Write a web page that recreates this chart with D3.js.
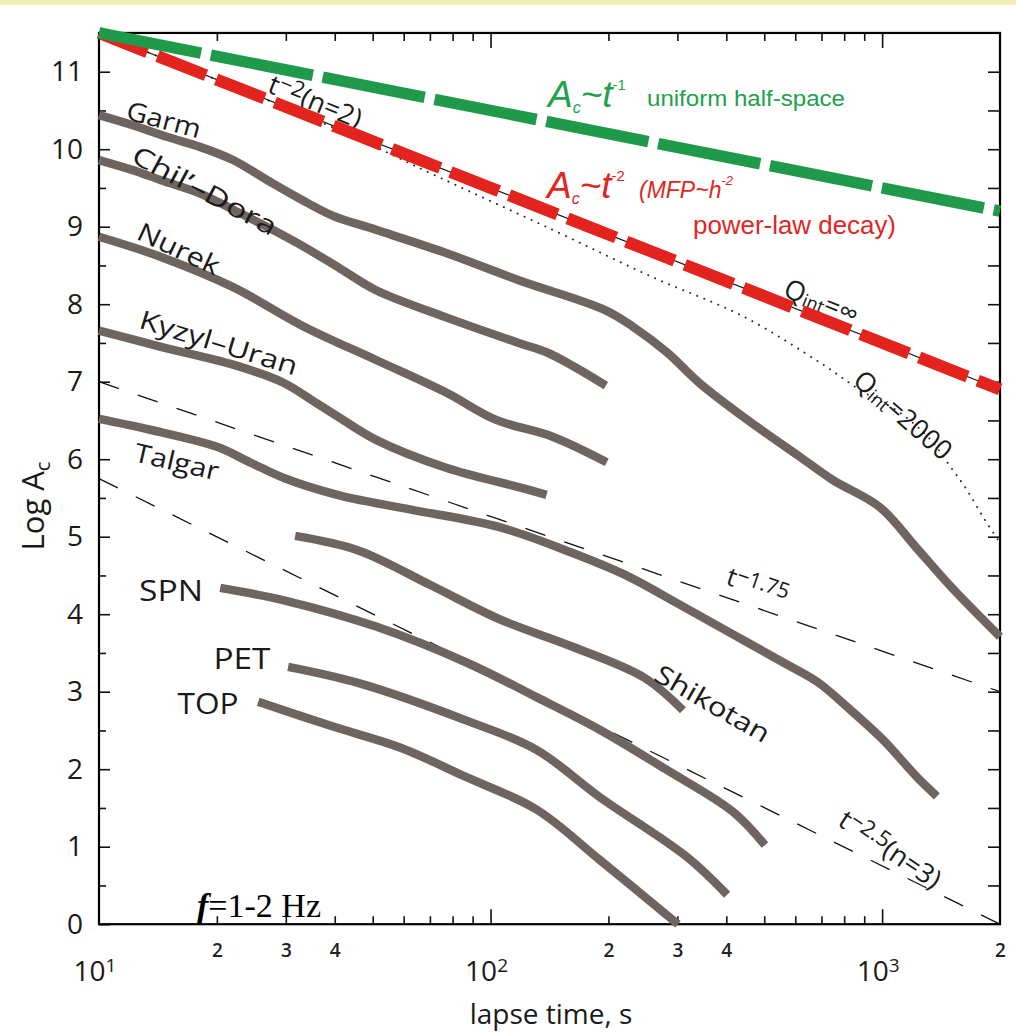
<!DOCTYPE html>
<html><head><meta charset="utf-8">
<script src="https://cdn.jsdelivr.net/npm/d3@7"></script>
<style>body{margin:0;background:#fff;} svg{display:block;} text{font-family:"Open Sans","DejaVu Sans",sans-serif;fill:#1a1a1a;}</style>
</head><body><svg id="c" width="1016" height="1033"></svg>
<script>
// ---------- data (lapse time t in s, log Ac) ----------
const garmT   = [10,12.2,14.9,18.1,22,26.9,32.6,39.6,51,77,118,195,231,282,342,452,617,749,987,1227,1490,2000];
const garmA   = [10.44,10.31,10.16,10.03,9.86,9.60,9.36,9.14,8.96,8.66,8.31,7.93,7.71,7.38,6.98,6.51,6.03,5.73,5.38,4.85,4.37,3.71];
const chilT   = [10,12.2,14.4,18.1,22,27.3,33.4,41.3,51,77,118,139,164,197];
const chilA   = [9.86,9.73,9.60,9.43,9.22,8.98,8.74,8.46,8.18,7.83,7.50,7.38,7.19,6.95];
const nurekT  = [10,14.4,22,33.4,51,77,103,144,198];
const nurekA  = [8.87,8.61,8.22,7.71,7.28,6.86,6.51,6.29,5.96];
const kyzylT  = [10,14.4,22,29.5,36,41.3,51,77,118,139];
const kyzylA  = [7.66,7.45,7.22,6.99,6.72,6.53,6.25,5.89,5.64,5.54];
const talgarT = [10,13.5,20,24.3,29.9,41.3,62.6,106,162,220,305,416,558,682,828,1005,1227,1380];
const talgarA = [6.52,6.38,6.16,5.96,5.75,5.53,5.35,5.12,4.79,4.51,4.12,3.74,3.38,3.13,2.77,2.38,1.90,1.65];
const shikT   = [31.7,46.1,70,106,162,247,310];
const shikA   = [5.01,4.82,4.38,3.93,3.58,3.18,2.76];
const spnT    = [20.4,30.2,51,86.5,131,190,282,416,502];
const spnA    = [4.34,4.17,3.84,3.38,2.93,2.51,1.99,1.45,1.02];
const petT    = [30.4,46.1,86.5,131,190,317,402];
const petA    = [3.32,3.11,2.63,2.25,1.64,0.87,0.38];
const topT    = [25.5,39.6,58.7,86.5,131,190,301];
const topA    = [2.87,2.55,2.28,1.90,1.48,0.83,0.0];

// reference power-law lines (end points)
const refT      = [10, 2000];
const tm1A      = [11.5, 9.2];   // Ac ~ t^-1
const tm2A      = [11.5, 6.9];   // Ac ~ t^-2
const tm175A    = [7.0, 3.0];    // t^-1.75
const tm25A     = [5.75, 0.0];   // t^-2.5
// Qint = 2000 curve
const q2000T = [10,40,73,144,259,443,697,874,1110,1330,1495,1643,1828,2000];
const q2000A = [11.5,10.27,9.65,8.96,8.35,7.84,7.24,6.90,6.60,6.25,5.90,5.61,5.22,4.92];

// ticks
const yMajor = [0,1,2,3,4,5,6,7,8,9,10,11];
const yMinor = [0.5,1.5,2.5,3.5,4.5,5.5,6.5,7.5,8.5,9.5,10.5,11.5];
const yRight = [0.5,1,1.5,2,2.5,3,3.5,4,4.5,5,5.5,6,6.5,7,7.5,8,8.5,9,9.5,10,10.5,11];
const xMinor = [20,30,40,50,60,70,80,90,200,300,400,500,600,700,800,900];
const xMajor = [100,1000];
const xMinorLabels = [20,30,40,200,300,400,2000];
const xDecades = [10,100,1000];

// ---------- drawing ----------
const svg = d3.select("#c");
svg.append("rect").attr("width",1016).attr("height",5).attr("fill","#f0efb8");

const x = d3.scaleLog().domain([10,2000]).range([99,1000]);
const y = d3.scaleLinear().domain([0,11.5]).range([924.2,32.95]);

const line = d3.line().x(d=>x(d[0])).y(d=>y(d[1]));
const smooth = d3.line().x(d=>x(d[0])).y(d=>y(d[1])).curve(d3.curveCatmullRom.alpha(0.5));
const zip = (a,b)=>a.map((v,i)=>[v,b[i]]);

// axes ticks
const noDomain = g=>g.select(".domain").remove();
svg.append("g").attr("transform",`translate(0,${y(0)})`)
  .call(d3.axisBottom(x).tickValues(xMinor).tickSize(-8).tickFormat("")).call(noDomain);
svg.append("g").attr("transform",`translate(0,${y(0)})`)
  .call(d3.axisBottom(x).tickValues(xMajor).tickSize(-15).tickFormat("")).call(noDomain);
svg.append("g").attr("transform",`translate(0,${y(11.5)})`)
  .call(d3.axisTop(x).tickValues(xMinor).tickSize(-8).tickFormat("")).call(noDomain);
svg.append("g").attr("transform",`translate(0,${y(11.5)})`)
  .call(d3.axisTop(x).tickValues(xMajor).tickSize(-15).tickFormat("")).call(noDomain);
svg.append("g").attr("transform",`translate(${x(10)},0)`)
  .call(d3.axisLeft(y).tickValues(yMajor).tickSize(-11).tickPadding(16).tickFormat(d3.format("d")))
  .call(noDomain)
  .call(g=>g.selectAll("text").attr("font-size",28).style("fill","#1a1a1a"));
svg.append("g").attr("transform",`translate(${x(10)},0)`)
  .call(d3.axisLeft(y).tickValues(yMinor).tickSize(-7).tickFormat("")).call(noDomain);
svg.append("g").attr("transform",`translate(${x(2000)},0)`)
  .call(d3.axisRight(y).tickValues(yRight).tickSize(-12).tickFormat("")).call(noDomain);
svg.selectAll(".tick line").attr("stroke","#111").attr("stroke-width",1.6);

// x labels
svg.append("g").attr("transform",`translate(0,${y(0)})`)
  .call(d3.axisBottom(x).tickValues(xMinorLabels).tickSize(0).tickPadding(19).tickFormat(d=>String(d).charAt(0)))
  .call(noDomain)
  .call(g=>g.selectAll("text").attr("font-size",19).attr("font-weight",600).style("fill","#222"));
xDecades.forEach(d=>{
  const t = svg.append("text").attr("x",x(d)-4).attr("y",981).attr("text-anchor","middle").attr("font-size",28);
  t.append("tspan").text("10");
  t.append("tspan").attr("dy",-9).attr("font-size",19).text(String(Math.round(Math.log10(d))));
});
svg.append("text").attr("x",551).attr("y",1024).attr("text-anchor","middle").attr("font-size",28).text("lapse time, s");
const yl = svg.append("text").attr("transform","translate(44,506) rotate(-90)").attr("text-anchor","middle").attr("font-size",31);
yl.append("tspan").text("Log A");
yl.append("tspan").attr("dy",6).attr("font-size",20).text("c");

// frame
svg.append("rect").attr("x",x(10)).attr("y",y(11.5)).attr("width",x(2000)-x(10)).attr("height",y(0)-y(11.5))
  .attr("fill","none").attr("stroke","#000").attr("stroke-width",2.2);

// thin reference lines
svg.append("path").attr("d",line(zip(refT,tm175A))).attr("fill","none").attr("stroke","#111").attr("stroke-width",1.3).attr("stroke-dasharray","21,20");
svg.append("path").attr("d",line(zip(refT,tm25A))).attr("fill","none").attr("stroke","#111").attr("stroke-width",1.3).attr("stroke-dasharray","21,20");
svg.append("path").attr("d",smooth(zip(q2000T,q2000A))).attr("fill","none").attr("stroke","#222").attr("stroke-width",1.9).attr("stroke-linecap","round").attr("stroke-dasharray","0.1,7.5");
svg.append("path").attr("d",line(zip(refT,tm2A))).attr("fill","none").attr("stroke","#111").attr("stroke-width",1.2);

// data curves
const curves = [[garmT,garmA],[chilT,chilA],[nurekT,nurekA],[kyzylT,kyzylA],[talgarT,talgarA],[shikT,shikA],[spnT,spnA],[petT,petA],[topT,topA]];
curves.forEach(([t,a])=>{
  svg.append("path").attr("d",smooth(zip(t,a))).attr("fill","none").attr("stroke","#6f6560").attr("stroke-width",8.5).attr("stroke-linejoin","round");
});

// labels
function lab(txt,cx,cy,rot,size,len){
  const t = svg.append("text").attr("transform",`translate(${cx},${cy}) rotate(${rot})`)
    .attr("text-anchor","middle").attr("dominant-baseline","central").attr("font-size",size).text(txt);
  if(len) t.attr("textLength",len).attr("lengthAdjust","spacingAndGlyphs");
  return t;
}
lab("Garm",164,119,15,26,76);
lab("Chil\u2019\u2013Dora",205,190,28,26,160);
lab("Nurek",179,248,25,26,88);
lab("Kyzyl\u2013Uran",219,342,17,26,164);
lab("Talgar",177,461,13,26,86);
lab("Shikotan",713,703,30,26,128);
lab("SPN",171,589,0,30,64);
lab("PET",242,657,0,30,57);
lab("TOP",208,702,0,30,61);

function powLab(base,exp,tail,cx,cy,rot,size){
  const t = svg.append("text").attr("transform",`translate(${cx},${cy}) rotate(${rot})`)
    .attr("text-anchor","middle").attr("dominant-baseline","central").attr("font-size",size);
  t.append("tspan").text(base);
  t.append("tspan").attr("dy",-5).attr("font-size",size*0.82).text(exp);
  if(tail) t.append("tspan").attr("dy",5).attr("font-size",size).text(tail);
}
powLab("t","\u22122","(n=2)",316,100,22,27);
powLab("t","\u22121.75",null,758,585,19,26);
powLab("t","\u22122.5","(n=3)",891,848,34,27);

function qLab(tail,cx,cy,rot){
  const t = svg.append("text").attr("transform",`translate(${cx},${cy}) rotate(${rot})`)
    .attr("text-anchor","middle").attr("dominant-baseline","central").attr("font-size",27);
  t.append("tspan").text("Q");
  t.append("tspan").attr("dy",6).attr("font-size",18).text("int");
  t.append("tspan").attr("dy",-6).text(tail);
}
qLab("=\u221e",822,300,22);
qLab("=2000",904,414,41);

// thick colored power-law lines (drawn on top)
svg.append("path").attr("d",line(zip(refT,tm2A))).attr("fill","none").attr("stroke","#e3231e").attr("stroke-width",12).attr("stroke-dasharray","52,11");
svg.append("path").attr("d",line(zip(refT,tm1A))).attr("fill","none").attr("stroke","#1f9a4a").attr("stroke-width",11.5).attr("stroke-dasharray","104,10");

// colored annotations
const ff = "'Liberation Sans',Arial,sans-serif";
function powerTitle(x0,y0,exp,color){
  const g = svg.append("text").attr("x",x0).attr("y",y0).style("font-family",ff).style("fill",color);
  g.append("tspan").attr("font-size",37).attr("font-style","italic").text("A");
  g.append("tspan").attr("font-size",16).attr("font-style","italic").attr("dy",6).text("c");
  g.append("tspan").attr("font-size",37).attr("font-style","italic").attr("dy",-6).text("~t");
  g.append("tspan").attr("font-size",15).attr("dy",-17).text(exp);
}
powerTitle(548,107,"-1","#22a04b");
svg.append("text").attr("x",647).attr("y",106).style("font-family",ff).style("fill","#22a04b")
  .attr("font-size",22).attr("textLength",198).attr("lengthAdjust","spacingAndGlyphs").text("uniform half-space");
powerTitle(547,198,"-2","#e0261f");
const mf = svg.append("text").attr("x",639).attr("y",198).style("font-family",ff).style("fill","#e0261f");
mf.append("tspan").attr("font-size",23).attr("font-style","italic").text("(MFP~h");
mf.append("tspan").attr("font-size",13).attr("font-style","italic").attr("dy",-13).text("-2");
svg.append("text").attr("x",693).attr("y",234).style("font-family",ff).style("fill","#e0261f")
  .attr("font-size",25).attr("textLength",203).attr("lengthAdjust","spacingAndGlyphs").text("power-law decay)");

// frequency note
const fn = svg.append("text").attr("x",197).attr("y",917).style("font-family","'Liberation Serif','Times New Roman',serif").attr("font-size",34).style("fill","#000");
fn.append("tspan").attr("font-weight","bold").attr("font-style","italic").text("f");
fn.append("tspan").text("=1-2 Hz");
</script></body></html>
